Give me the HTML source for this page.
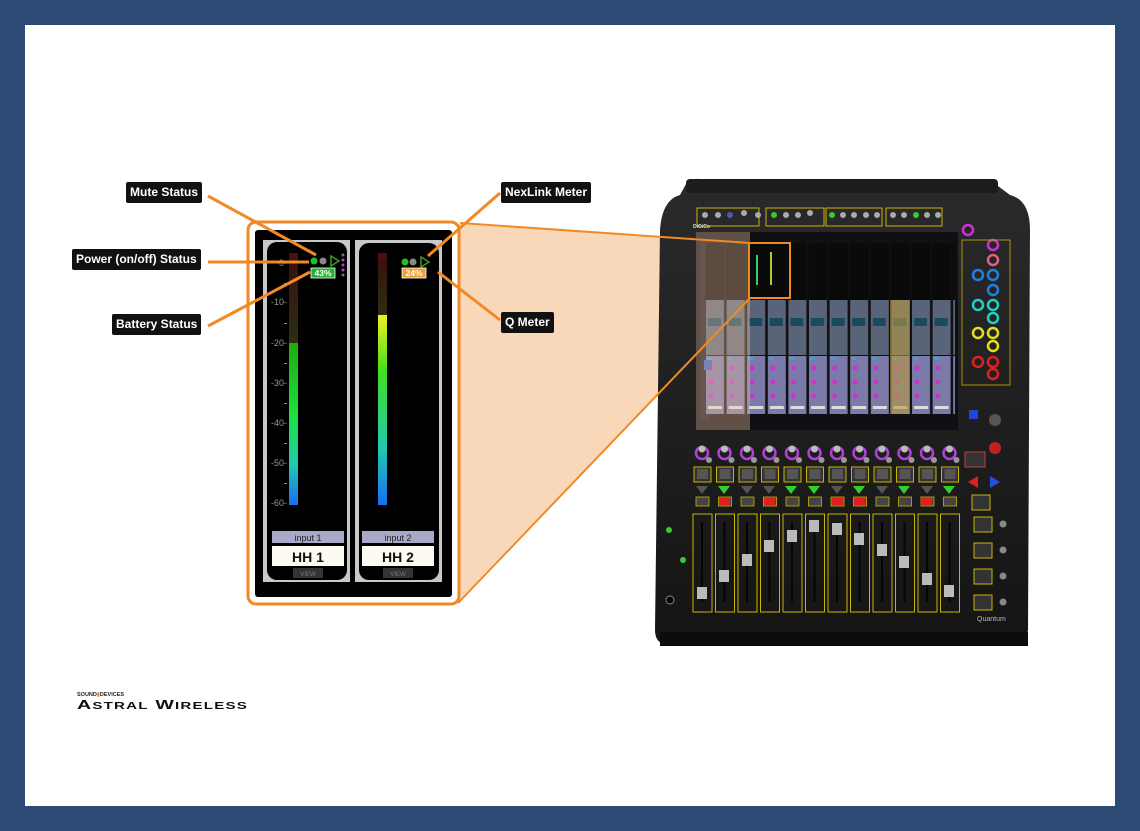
<!DOCTYPE html>
<html><head><meta charset="utf-8"><style>
html,body{margin:0;padding:0;width:1140px;height:831px;overflow:hidden;background:#2d4a74;}
.page{position:absolute;left:25px;top:25px;width:1090px;height:781px;background:#fff;}
.lbl{position:absolute;background:#111;color:#fff;font:bold 12px "Liberation Sans",sans-serif;height:21px;line-height:21px;padding:0 4px;border-radius:2px;box-sizing:border-box;white-space:nowrap;}
svg{position:absolute;left:0;top:0;}
</style></head><body>
<div class="page"></div>
<svg width="1140" height="831" viewBox="0 0 1140 831" xmlns="http://www.w3.org/2000/svg">
<defs>
<linearGradient id="m1" x1="0" y1="0" x2="0" y2="1">
<stop offset="0" stop-color="#1faa10"/><stop offset="0.45" stop-color="#1ee040"/><stop offset="0.75" stop-color="#22c8b0"/><stop offset="1" stop-color="#1a6ef0"/></linearGradient>
<linearGradient id="m2" x1="0" y1="0" x2="0" y2="1">
<stop offset="0" stop-color="#f0f020"/><stop offset="0.3" stop-color="#40e020"/><stop offset="0.7" stop-color="#22c8b0"/><stop offset="1" stop-color="#1a6ef0"/></linearGradient>
<linearGradient id="dk" x1="0" y1="0" x2="0" y2="1"><stop offset="0" stop-color="#3a1010"/><stop offset="1" stop-color="#2a3010"/></linearGradient>
<linearGradient id="body" x1="0" y1="0" x2="0" y2="1"><stop offset="0" stop-color="#2a2a2c"/><stop offset="1" stop-color="#141414"/></linearGradient>
<pattern id="scr" x="705" y="0" width="20.6" height="831" patternUnits="userSpaceOnUse">
<rect x="0.5" y="243" width="19" height="57" fill="#0a0a0a"/>
<rect x="1" y="300" width="18" height="55" fill="#5a6478"/>
<rect x="3" y="318" width="13" height="8" fill="#1a4a60"/>
<rect x="1" y="356" width="18" height="58" fill="#7c7aa8"/>
<circle cx="6" cy="368" r="2.5" fill="#d030d0"/><circle cx="6" cy="382" r="2.5" fill="#d030d0"/><circle cx="6" cy="396" r="2.5" fill="#d030d0"/>
<rect x="3" y="406" width="14" height="3" fill="#ddd"/>
<rect x="2" y="357" width="5" height="3" fill="#3ac"/>
</pattern>
<pattern id="strip" x="691" y="0" width="22.5" height="831" patternUnits="userSpaceOnUse">
<circle cx="11" cy="453" r="6" fill="none" stroke="#b040d8" stroke-width="2.5"/><circle cx="11" cy="449" r="3.5" fill="#bbb"/>
<circle cx="18" cy="460" r="3" fill="#999"/>
<rect x="3" y="467" width="17" height="15" fill="#333" stroke="#c8b400" stroke-width="1"/>
<rect x="6" y="469" width="11" height="10" fill="#555"/>
<rect x="5" y="497" width="13" height="9" fill="#444" stroke="#c8b400" stroke-width="0.8"/>
<rect x="2" y="514" width="19" height="98" fill="none" stroke="#c8b400" stroke-width="1"/>
<rect x="10" y="522" width="2" height="80" fill="#050505"/>
</pattern>
</defs>

<polygon points="458,224 750,243 750,298 456,603" fill="#f7c9a2" opacity="0.75"/>

<path d="M686,184 Q688,178 700,179 L990,179 Q996,179 998,186 L1010,195 Q1030,200 1030,230 L1028,630 Q1026,645 1010,645 L670,645 Q655,645 655,630 L660,230 Q662,200 680,195 Z" fill="url(#body)"/>
<rect x="686" y="179" width="312" height="14" rx="4" fill="#1c1c1e"/>
<rect x="660" y="632" width="368" height="14" fill="#0c0c0c"/>
<g fill="none" stroke="#c8b400" stroke-width="1">
<rect x="697" y="208" width="62" height="18"/><rect x="766" y="208" width="58" height="18"/><rect x="826" y="208" width="56" height="18"/><rect x="886" y="208" width="56" height="18"/>
</g>
<g fill="#aaa">
<circle cx="705" cy="215" r="3"/><circle cx="718" cy="215" r="3"/><circle cx="730" cy="215" r="3" fill="#55a"/><circle cx="744" cy="213" r="3"/>
<circle cx="758" cy="215" r="3"/><circle cx="774" cy="215" r="3" fill="#3c3"/><circle cx="786" cy="215" r="3"/><circle cx="798" cy="215" r="3"/><circle cx="810" cy="213" r="3"/>
<circle cx="832" cy="215" r="3" fill="#3c3"/><circle cx="843" cy="215" r="3"/><circle cx="854" cy="215" r="3"/><circle cx="866" cy="215" r="3"/><circle cx="877" cy="215" r="3"/>
<circle cx="893" cy="215" r="3"/><circle cx="904" cy="215" r="3"/><circle cx="916" cy="215" r="3" fill="#3c3"/><circle cx="927" cy="215" r="3"/><circle cx="938" cy="215" r="3"/>
</g>
<text x="693" y="228" font-family="Liberation Sans" font-size="5" fill="#ddd" font-weight="bold">DiGiCo</text>
<rect x="696" y="232" width="262" height="198" fill="#101014"/>
<rect x="700" y="240" width="10" height="180" fill="#1a1a22"/>
<rect x="705" y="240" width="250" height="176" fill="url(#scr)"/>
<rect x="890" y="300" width="20" height="114" fill="#b89a40" opacity="0.6"/>
<rect x="750" y="243" width="40" height="55" fill="#0a0a0a"/>
<rect x="756" y="255" width="2" height="30" fill="#3c6"/><rect x="770" y="252" width="2" height="33" fill="#ac3"/>
<rect x="704" y="360" width="8" height="10" fill="#3360c0"/>
<rect x="696" y="232" width="54" height="198" fill="#f7c9a2" opacity="0.35"/>
<g fill="none" stroke-width="2.5">
<circle cx="968" cy="230" r="5" stroke="#d030d0"/><circle cx="993" cy="245" r="5" stroke="#d030d0"/><circle cx="993" cy="260" r="5" stroke="#e06080"/>
<circle cx="993" cy="275" r="5" stroke="#2080e0"/><circle cx="993" cy="290" r="5" stroke="#2080e0"/><circle cx="978" cy="275" r="5" stroke="#2080e0"/>
<circle cx="993" cy="305" r="5" stroke="#20d0c0"/><circle cx="978" cy="305" r="5" stroke="#20d0c0"/><circle cx="993" cy="318" r="5" stroke="#20d0c0"/>
<circle cx="993" cy="333" r="5" stroke="#e0e020"/><circle cx="978" cy="333" r="5" stroke="#e0e020"/><circle cx="993" cy="346" r="5" stroke="#e0e020"/>
<circle cx="993" cy="362" r="5" stroke="#e02020"/><circle cx="978" cy="362" r="5" stroke="#e02020"/><circle cx="993" cy="374" r="5" stroke="#e02020"/>
</g>
<rect x="962" y="240" width="48" height="145" fill="none" stroke="#c8b400" stroke-width="0.8"/>
<rect x="969" y="410" width="9" height="9" fill="#2244dd"/>
<circle cx="995" cy="420" r="6" fill="#555"/>
<rect x="691" y="440" width="270" height="175" fill="url(#strip)"/>
<g fill="#30d030">
<polygon points="718,486 730,486 724,494"/><polygon points="785,486 797,486 791,494"/><polygon points="808,486 820,486 814,494"/><polygon points="853,486 865,486 859,494"/><polygon points="898,486 910,486 904,494"/><polygon points="943,486 955,486 949,494"/>
</g>
<g fill="#555">
<polygon points="696,486 708,486 702,494"/><polygon points="741,486 753,486 747,494"/><polygon points="763,486 775,486 769,494"/><polygon points="831,486 843,486 837,494"/><polygon points="876,486 888,486 882,494"/><polygon points="921,486 933,486 927,494"/>
</g>
<g fill="#e02020">
<rect x="719" y="498" width="11" height="7"/><rect x="764" y="498" width="11" height="7"/><rect x="832" y="498" width="11" height="7"/><rect x="854" y="498" width="11" height="7"/><rect x="921" y="498" width="11" height="7"/>
</g>
<g fill="#bbb">
<rect x="697" y="587" width="10" height="12"/><rect x="719" y="570" width="10" height="12"/><rect x="742" y="554" width="10" height="12"/><rect x="764" y="540" width="10" height="12"/>
<rect x="787" y="530" width="10" height="12"/><rect x="809" y="520" width="10" height="12"/><rect x="832" y="523" width="10" height="12"/><rect x="854" y="533" width="10" height="12"/>
<rect x="877" y="544" width="10" height="12"/><rect x="899" y="556" width="10" height="12"/><rect x="922" y="573" width="10" height="12"/><rect x="944" y="585" width="10" height="12"/>
</g>
<polygon points="968,482 978,476 978,488" fill="#e02020"/><polygon points="1000,482 990,476 990,488" fill="#2050e0"/>
<rect x="965" y="452" width="20" height="15" fill="#333" stroke="#c04040"/>
<circle cx="995" cy="448" r="6" fill="#c02020"/>
<g fill="#333" stroke="#c8b400"><rect x="972" y="495" width="18" height="15"/><rect x="974" y="517" width="18" height="15"/><rect x="974" y="543" width="18" height="15"/><rect x="974" y="569" width="18" height="15"/><rect x="974" y="595" width="18" height="15"/></g>
<g fill="#888"><circle cx="1003" cy="524" r="3.5"/><circle cx="1003" cy="550" r="3.5"/><circle cx="1003" cy="576" r="3.5"/><circle cx="1003" cy="602" r="3.5"/></g>
<circle cx="670" cy="600" r="4" fill="#000" stroke="#888"/>
<circle cx="669" cy="530" r="3" fill="#3c3"/><circle cx="683" cy="560" r="3" fill="#3c3"/>
<text x="977" y="621" font-family="Liberation Sans" font-size="7" fill="#bbb">Quantum</text>

<rect x="248" y="222" width="211" height="382" rx="8" fill="#fff" stroke="#f08a24" stroke-width="3"/>
<rect x="255" y="230" width="197" height="367" rx="3" fill="#000"/>
<line x1="460" y1="223" x2="750" y2="243" stroke="#f08a24" stroke-width="2"/>
<line x1="458" y1="603" x2="750" y2="298" stroke="#f08a24" stroke-width="2"/>
<rect x="749" y="243" width="41" height="55" fill="none" stroke="#f08a24" stroke-width="2"/>

<rect x="263" y="240" width="87" height="342" fill="#c8c8c8"/>
<rect x="267" y="242" width="80" height="338" rx="10" fill="#000"/>
<rect x="289" y="253" width="9" height="7" fill="#4a1010"/>
<rect x="289" y="260" width="9" height="83" fill="url(#dk)"/>
<rect x="289" y="343" width="9" height="162" fill="url(#m1)"/>
<g font-family="Liberation Sans" font-size="9" fill="#999" text-anchor="end">
<text x="287" y="266">0-</text><text x="287" y="305">-10-</text><text x="287" y="346">-20-</text><text x="287" y="386">-30-</text><text x="287" y="426">-40-</text><text x="287" y="466">-50-</text><text x="287" y="506">-60-</text>
<text x="378" y="266">0-</text><text x="378" y="305">-10-</text><text x="378" y="346">-20-</text><text x="378" y="386">-30-</text><text x="378" y="426">-40-</text><text x="378" y="466">-50-</text><text x="378" y="506">-60-</text>
</g>
<g fill="#888"><rect x="284" y="283" width="3" height="1"/><rect x="284" y="323" width="3" height="1"/><rect x="284" y="363" width="3" height="1"/><rect x="284" y="403" width="3" height="1"/><rect x="284" y="443" width="3" height="1"/><rect x="284" y="483" width="3" height="1"/>
<rect x="375" y="283" width="3" height="1"/><rect x="375" y="323" width="3" height="1"/><rect x="375" y="363" width="3" height="1"/><rect x="375" y="403" width="3" height="1"/><rect x="375" y="443" width="3" height="1"/><rect x="375" y="483" width="3" height="1"/></g>
<circle cx="314" cy="261" r="3.5" fill="#20c020"/><circle cx="323" cy="261" r="3.5" fill="#888"/>
<polygon points="331,256 339,261 331,266" fill="none" stroke="#3a9a20" stroke-width="1.5"/>
<g fill="#a050b0"><circle cx="343" cy="255" r="1.5"/><circle cx="343" cy="260" r="1.5"/><circle cx="343" cy="265" r="1.5"/><circle cx="343" cy="270" r="1.5"/><circle cx="343" cy="275" r="1.5"/>
<circle cx="435" cy="255" r="1.5"/><circle cx="435" cy="260" r="1.5"/><circle cx="435" cy="265" r="1.5"/><circle cx="435" cy="270" r="1.5"/><circle cx="435" cy="275" r="1.5"/></g>
<rect x="311" y="268" width="24" height="10" fill="#22b030" stroke="#fff" stroke-width="0.8"/>
<text x="323" y="276" font-family="Liberation Sans" font-size="8.5" font-weight="bold" fill="#fff" text-anchor="middle">43%</text>
<rect x="272" y="531" width="72" height="12" fill="#a8a8c8"/>
<text x="308" y="541" font-family="Liberation Sans" font-size="9" fill="#222" text-anchor="middle">input 1</text>
<rect x="272" y="546" width="72" height="20" fill="#fdfaf0"/>
<text x="308" y="562" font-family="Liberation Sans" font-size="14" font-weight="bold" fill="#111" text-anchor="middle">HH 1</text>
<rect x="293" y="568" width="30" height="10" fill="#333"/>
<text x="308" y="576" font-family="Liberation Sans" font-size="6" fill="#777" text-anchor="middle">VIEW</text>

<rect x="355" y="240" width="87" height="342" fill="#c8c8c8"/>
<rect x="359" y="243" width="80" height="337" rx="10" fill="#000"/>
<rect x="378" y="253" width="9" height="7" fill="#4a1010"/>
<rect x="378" y="260" width="9" height="55" fill="url(#dk)"/>
<rect x="378" y="315" width="9" height="190" fill="url(#m2)"/>
<circle cx="405" cy="262" r="3.5" fill="#20c020"/><circle cx="413" cy="262" r="3.5" fill="#888"/>
<polygon points="421,257 429,262 421,267" fill="none" stroke="#3a9a20" stroke-width="1.5"/>
<rect x="402" y="268" width="24" height="10" fill="#f0a030" stroke="#fff" stroke-width="0.8"/>
<text x="414" y="276" font-family="Liberation Sans" font-size="8.5" font-weight="bold" fill="#fff" text-anchor="middle">24%</text>
<rect x="362" y="531" width="72" height="12" fill="#a8a8c8"/>
<text x="398" y="541" font-family="Liberation Sans" font-size="9" fill="#222" text-anchor="middle">input 2</text>
<rect x="362" y="546" width="72" height="20" fill="#fdfaf0"/>
<text x="398" y="562" font-family="Liberation Sans" font-size="14" font-weight="bold" fill="#111" text-anchor="middle">HH 2</text>
<rect x="383" y="568" width="30" height="10" fill="#333"/>
<text x="398" y="576" font-family="Liberation Sans" font-size="6" fill="#777" text-anchor="middle">VIEW</text>

<g stroke="#f08a24" stroke-width="3" fill="none">
<line x1="208" y1="196" x2="316" y2="255"/>
<line x1="208" y1="262" x2="309" y2="262"/>
<line x1="208" y1="326" x2="310" y2="272"/>
<line x1="500" y1="193" x2="428" y2="256"/>
<line x1="500" y1="320" x2="438" y2="272"/>
</g>

<text x="77" y="696" font-family="Liberation Sans" font-size="5.5" font-weight="bold" fill="#222">SOUND<tspan fill="#f08a24">▮</tspan>DEVICES</text>
<text x="77" y="709" font-family="Liberation Sans" font-weight="bold" font-size="13" fill="#111" letter-spacing="0.8" textLength="171" lengthAdjust="spacingAndGlyphs">A<tspan font-size="10">STRAL</tspan> W<tspan font-size="10">IRELESS</tspan></text>
</svg>
<div class="lbl" style="left:126px;top:182px;">Mute Status</div>
<div class="lbl" style="left:72px;top:249px;">Power (on/off) Status</div>
<div class="lbl" style="left:112px;top:314px;">Battery Status</div>
<div class="lbl" style="left:501px;top:182px;">NexLink Meter</div>
<div class="lbl" style="left:501px;top:312px;">Q Meter</div>
</body></html>
